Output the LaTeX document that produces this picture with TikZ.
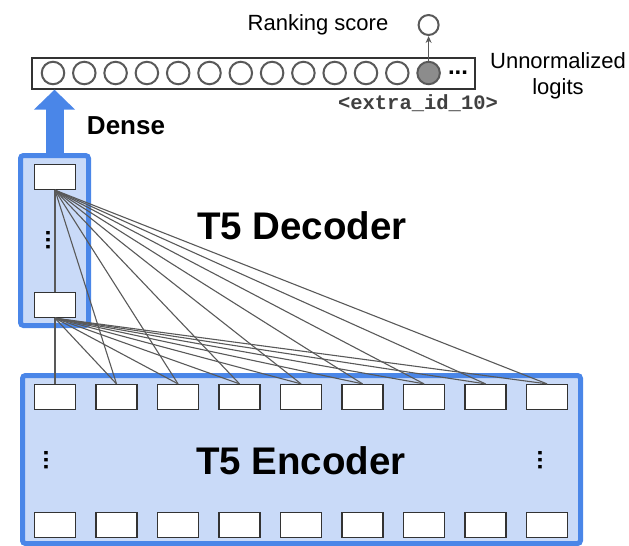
\documentclass[tikz,border=0pt]{standalone}
\usepackage{fontspec}
\setmainfont{Liberation Sans}
\setmonofont{Liberation Mono}
\usetikzlibrary{arrows.meta,positioning}
\definecolor{tblue}{HTML}{4A86E8}
\definecolor{tlight}{HTML}{C9DAF8}
\definecolor{wiregray}{HTML}{595959}
\tikzset{
  stack/.style={draw=tblue, fill=tlight, line width=5pt, rounded corners=3pt, inner sep=0pt},
  cell/.style={draw=black!80, fill=white, line width=1.3pt, minimum width=41pt, minimum height=25pt, inner sep=0pt},
  logit/.style={circle, draw=wiregray, line width=2pt, fill=white, minimum size=22.5pt, inner sep=0pt},
  wire/.style={draw=wiregray, line width=1.1pt},
  vdots/.style={rotate=90, font=\fontsize{24}{24}\selectfont\bfseries, inner sep=0pt},
}
\begin{document}
\begin{tikzpicture}[x=1pt,y=-1pt]
	\useasboundingbox (0,0) rectangle (629,546);
	\node [stack, minimum width=68pt, minimum height=170pt] (dec) at (54.5,240.5) {};
	\node [stack, minimum width=558pt, minimum height=168pt] (enc) at (301.5,459.5) {};
	\node [draw=black!80, fill=white, line width=1.3pt, minimum width=443pt, minimum height=31pt, inner sep=0pt] (bar) at (253.5,73.5) {};
	\foreach \i in {0,...,11} {
		\node [logit] (l\i) at (53+31.3*\i, 73) {};
	};
	\node [logit, fill=black!45] (l12) at (428.6,73) {};
	\node [font=\fontsize{24}{24}\selectfont\bfseries, inner sep=0pt] (more) at (458,73) {...};
	\node [logit, minimum size=20pt] (rank) at (428.6,25) {};
	\draw [wire, -{Stealth[length=7pt,width=6pt]}] (l12) -- (rank);
	\node [anchor=base, font=\fontsize{22}{26}\selectfont] (rs) at (318,30) {Ranking score};
	\node [anchor=north, align=center, inner sep=0pt, font=\fontsize{22}{26}\selectfont] (un) at (558,52) {Unnormalized\\logits};
	\node [anchor=base, text=black!75, font=\fontsize{20.5}{24}\selectfont\ttfamily\bfseries] (tok) at (418,109) {<extra\_id\_10>};
	\draw [tblue, line width=18pt, -{Triangle[length=20pt,width=40pt]}] (dec.north) -- (dec.north |- bar.south);
	\node [font=\fontsize{26}{30}\selectfont\bfseries] (dense) at (126,126) {Dense};
	\node [font=\fontsize{38.5}{44}\selectfont\bfseries] (dlabel) at (302,226) {T5 Decoder};
	\node [font=\fontsize{38.5}{44}\selectfont\bfseries] (elabel) at (301,461) {T5 Encoder};
	\node [cell] (d1) at (55,177) {};
	\node [cell] (d2) at (55,305) {};
	\foreach \i in {1,...,9} {
		\node [cell] (e\i) at (55+61.5*\i-61.5, 397) {};
		\node [cell] (b\i) at (55+61.5*\i-61.5, 525) {};
	};
	\draw [wire] (d1) -- (d2);
	\draw [wire] (d2) -- (e1);
	\foreach \i in {2,...,9} {
		\draw [wire] (d1.south) -- (e\i.north);
		\draw [wire] (d2.south) -- (e\i.north);
	};
	\node [vdots] (ddots) at (48,240) {...};
	\node [vdots] (edotsl) at (46,460) {...};
	\node [vdots] (edotsr) at (540,460) {...};
\end{tikzpicture}
\end{document}
